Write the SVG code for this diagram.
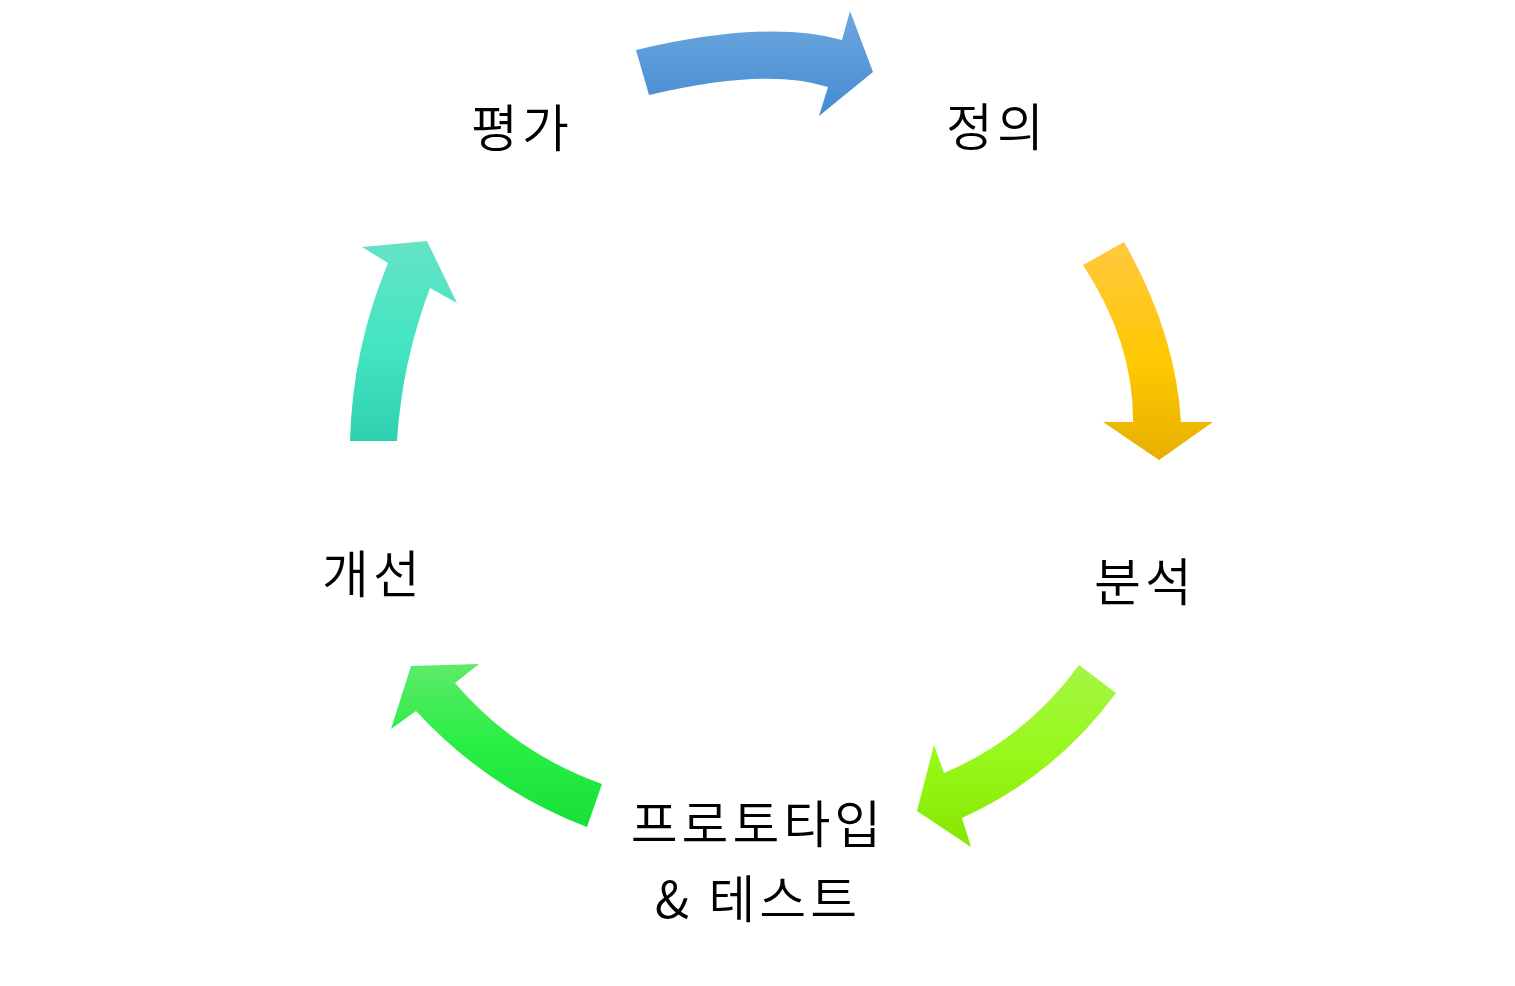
<svg xmlns="http://www.w3.org/2000/svg" width="1515" height="986" viewBox="0 0 1515 986">
<style>
.lbl{font-family:"Noto Sans CJK KR","Noto Sans",sans-serif;font-size:51px;font-weight:350;letter-spacing:4px;fill:#000;text-anchor:middle}
</style>
<defs>
<linearGradient id="gBlue" x1="0" y1="0" x2="0" y2="1"><stop offset="0" stop-color="#6ea8de"/><stop offset="1" stop-color="#448ad2"/></linearGradient>
<linearGradient id="gYellow" x1="0" y1="0" x2="0" y2="1"><stop offset="0" stop-color="#ffc840"/><stop offset="0.55" stop-color="#ffc800"/><stop offset="1" stop-color="#e6b000"/></linearGradient>
<linearGradient id="gLime" x1="0" y1="0" x2="0" y2="1"><stop offset="0" stop-color="#a4f644"/><stop offset="0.5" stop-color="#98f81a"/><stop offset="1" stop-color="#86e600"/></linearGradient>
<linearGradient id="gGreen" x1="0" y1="0" x2="0" y2="1"><stop offset="0" stop-color="#5ceb6a"/><stop offset="0.5" stop-color="#28ee44"/><stop offset="1" stop-color="#18e038"/></linearGradient>
<linearGradient id="gTeal" x1="0" y1="0" x2="0" y2="1"><stop offset="0" stop-color="#66e2c6"/><stop offset="0.5" stop-color="#44e6c2"/><stop offset="1" stop-color="#2ed0b0"/></linearGradient>
</defs>
<g id="connectors">
<path id="arrow-blue" fill="url(#gBlue)" d="M636,50 Q767,19 842,40 L850,11 L873,72 L819,116 L828,87 Q767,67 649,95 Z"/>
<path id="arrow-yellow" fill="url(#gYellow)" d="M1124,242 Q1175.5,332 1181,422 L1213,422 L1159,460 L1103,422 L1133,422 Q1134,343 1083,265 Z"/>
<path id="arrow-lime" fill="url(#gLime)" d="M1079,665 L1116,693 Q1055,776 962,818 L971,847 L917,811 L934,745 L944,773 Q1026.5,737.7 1079,665 Z"/>
<path id="arrow-green" fill="url(#gGreen)" d="M602,784 L587,827 Q488,789 416,711 L391,729 L411,666 L479,664 L455,683 Q515,753 602,784 Z"/>
<path id="arrow-teal" fill="url(#gTeal)" d="M350,441 Q352.4,348.4 388,263 L362,247 L427,241 L457,303 L430,288 Q402,362 397,441 Z"/>
</g>
<g id="node-eval"><text class="lbl" x="522" y="147">평가</text></g>
<g id="node-define"><text class="lbl" x="997" y="146">정의</text></g>
<g id="node-analysis"><text class="lbl" x="1145" y="601">분석</text></g>
<g id="node-proto"><text class="lbl" x="758" y="843">프로토타입</text><text class="lbl" x="758" y="918">&amp;  테스트</text></g>
<g id="node-improve"><text class="lbl" x="373" y="593">개선</text></g>
</svg>
